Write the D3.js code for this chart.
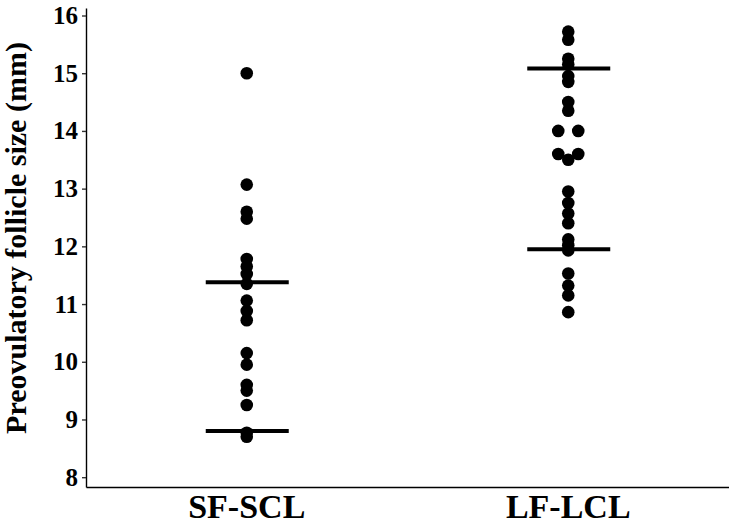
<!DOCTYPE html>
<html><head><meta charset="utf-8">
<script src="https://cdn.jsdelivr.net/npm/d3@7"></script>
<style>body{margin:0;background:#fff;} text{font-family:"Liberation Serif","Times New Roman",serif;font-weight:bold;}</style>
</head><body>
<svg id="c" width="729" height="525"></svg>
<script>
const categories = ["SF-SCL", "LF-LCL"];
const sfValues = [15.0, 13.07, 12.6, 12.48, 11.78, 11.65, 11.52, 11.35, 11.06, 10.88, 10.72, 10.15, 9.95, 9.6, 9.5, 9.25, 8.77, 8.7];
const lfValues = [15.72, 15.58, 15.25, 15.15, 14.95, 14.85, 14.5, 14.35, 14.0, 14.0, 13.6, 13.6, 13.5, 12.95, 12.75, 12.57, 12.4, 12.12, 12.02, 11.93, 11.53, 11.32, 11.15, 10.86];
const sfLines = [11.38, 8.8];
const lfLines = [15.08, 11.95];
const yTicks = [8, 9, 10, 11, 12, 13, 14, 15, 16];

const svg = d3.select("#c");
const margin = {left: 86, right: 0, top: 8, bottom: 38};
const W = 729, H = 525;
const x = d3.scaleBand().domain(categories).range([margin.left, W - margin.right]).paddingInner(0).paddingOuter(0);
const y = d3.scaleLinear().domain([7.83, 16.13]).range([H - margin.bottom, margin.top]);

const groups = [
  {cat: categories[0], values: sfValues, lines: sfLines},
  {cat: categories[1], values: lfValues, lines: lfLines}
];
const r = 6.3;
const step = 10;
groups.forEach(g => {
  const cx = x(g.cat) + x.bandwidth() / 2;
  const counts = d3.rollup(g.values, v => v.length, d => d);
  const seen = new Map();
  const pts = g.values.map(v => {
    const n = counts.get(v);
    const i = seen.get(v) || 0;
    seen.set(v, i + 1);
    return {v, off: (i - (n - 1) / 2) * 2 * step};
  });
  svg.append("g").selectAll("circle").data(pts).join("circle")
    .attr("cx", d => cx + d.off).attr("cy", d => y(d.v)).attr("r", r).attr("fill", "#000");
  svg.append("g").selectAll("line").data(g.lines).join("line")
    .attr("x1", cx - 41).attr("x2", cx + 42)
    .attr("y1", d => y(d)).attr("y2", d => y(d))
    .attr("stroke", "#000").attr("stroke-width", 4);
});

const yAxis = svg.append("g").attr("transform", `translate(${margin.left},0)`)
  .call(d3.axisLeft(y).tickValues(yTicks).tickSize(4).tickPadding(4).tickSizeOuter(0));
yAxis.select(".domain").attr("stroke", "#000").attr("stroke-width", 1.4);
yAxis.selectAll(".tick line").attr("stroke", "#333").attr("stroke-width", 1.4);
yAxis.selectAll(".tick text").attr("fill", "#000")
  .style("font-family", "'Liberation Serif',serif").style("font-weight", "bold").style("font-size", "25px");

const xAxis = svg.append("g").attr("transform", `translate(0,${H - margin.bottom})`)
  .call(d3.axisBottom(x).tickSize(0).tickPadding(7).tickSizeOuter(0));
xAxis.select(".domain").attr("stroke", "#000").attr("stroke-width", 1.4);
xAxis.selectAll(".tick text").attr("fill", "#000")
  .style("font-family", "'Liberation Serif',serif").style("font-weight", "bold").style("font-size", "34px");

svg.append("text").attr("transform", `translate(26,238) rotate(-90)`)
  .attr("text-anchor", "middle").attr("font-size", 30).attr("fill", "#000")
  .text("Preovulatory follicle size (mm)");
</script>
</body></html>
